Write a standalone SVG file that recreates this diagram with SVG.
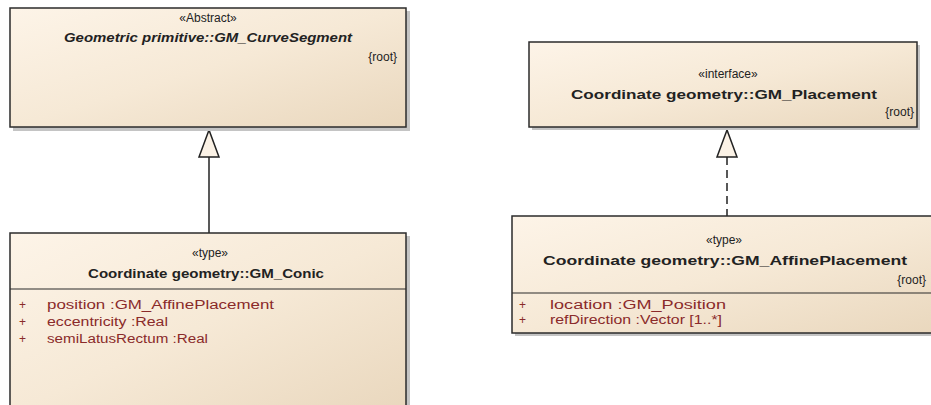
<svg xmlns="http://www.w3.org/2000/svg" width="931" height="405" viewBox="0 0 931 405">
<defs>
<linearGradient id="fill" x1="0" y1="0" x2="1" y2="1">
<stop offset="0" stop-color="#fdf4e8"/>
<stop offset="0.5" stop-color="#f6e9d6"/>
<stop offset="1" stop-color="#e9d7bd"/>
</linearGradient>
</defs>
<style>
.box{fill:url(#fill);stroke:#2b2b2b;stroke-width:1.5}
.shadow{fill:#c4c4c4}
.div{stroke:#2b2b2b;stroke-width:1.2}
text{font-family:"Liberation Sans",Arial,sans-serif;fill:#222}
.st{font-size:12px}
.nm{font-size:13px;font-weight:bold}
.it{font-style:italic}
.rt{font-size:12px;text-anchor:end}
.at{font-size:12px;fill:#8a2a2a}
.c{text-anchor:middle}
.edge{stroke:#222;stroke-width:1.5;fill:none}
.head{fill:#fbf2e6;stroke:#222;stroke-width:1.5}
</style>
<rect width="931" height="405" fill="#ffffff"/>
<g id="connectors">
<line class="edge" x1="209" y1="157" x2="209" y2="233"/>
<polygon class="head" points="209,130 199,157 219,157"/>
<line class="edge" x1="727" y1="157" x2="727" y2="216" stroke-dasharray="8,5"/>
<polygon class="head" points="727,130 717,157 737,157"/>
</g>
<g id="GM_CurveSegment">
<rect class="shadow" x="13" y="11" width="397" height="120"/>
<rect class="box" x="10" y="8" width="396" height="119"/>
<text class="st c" x="208" y="22">«Abstract»</text>
<text class="nm it c" x="208" y="42" textLength="288" lengthAdjust="spacingAndGlyphs">Geometric primitive::GM_CurveSegment</text>
<text class="rt" x="397" y="61">{root}</text>
</g>
<g id="GM_Conic">
<rect class="shadow" x="13" y="236" width="397" height="180"/>
<rect class="box" x="10" y="233" width="396" height="180"/>
<text class="st c" x="210" y="257">«type»</text>
<text class="nm c" x="206" y="278" textLength="236" lengthAdjust="spacingAndGlyphs">Coordinate geometry::GM_Conic</text>
<line class="div" x1="10" y1="289" x2="406" y2="289"/>
<text class="at" x="19" y="309">+</text>
<text class="at" x="47" y="309" textLength="227" lengthAdjust="spacingAndGlyphs">position  :GM_AffinePlacement</text>
<text class="at" x="19" y="326">+</text>
<text class="at" x="47" y="326" textLength="121" lengthAdjust="spacingAndGlyphs">eccentricity  :Real</text>
<text class="at" x="19" y="343">+</text>
<text class="at" x="47" y="343" textLength="161" lengthAdjust="spacingAndGlyphs">semiLatusRectum  :Real</text>
</g>
<g id="GM_Placement">
<rect class="shadow" x="532" y="45" width="388" height="85"/>
<rect class="box" x="529" y="42" width="388" height="85"/>
<text class="st c" x="728" y="78">«interface»</text>
<text class="nm c" x="724" y="99" textLength="306" lengthAdjust="spacingAndGlyphs">Coordinate geometry::GM_Placement</text>
<text class="rt" x="914" y="116">{root}</text>
</g>
<g id="GM_AffinePlacement">
<rect class="shadow" x="515" y="219" width="430" height="117"/>
<rect class="box" x="512" y="216" width="430" height="117"/>
<text class="st c" x="724" y="244">«type»</text>
<text class="nm c" x="725" y="265" textLength="364" lengthAdjust="spacingAndGlyphs">Coordinate geometry::GM_AffinePlacement</text>
<text class="rt" x="926" y="284">{root}</text>
<line class="div" x1="512" y1="293" x2="942" y2="293"/>
<text class="at" x="519" y="309">+</text>
<text class="at" x="550" y="309" textLength="176" lengthAdjust="spacingAndGlyphs">location  :GM_Position</text>
<text class="at" x="519" y="324">+</text>
<text class="at" x="550" y="324" textLength="172" lengthAdjust="spacingAndGlyphs">refDirection  :Vector [1..*]</text>
</g>
</svg>
